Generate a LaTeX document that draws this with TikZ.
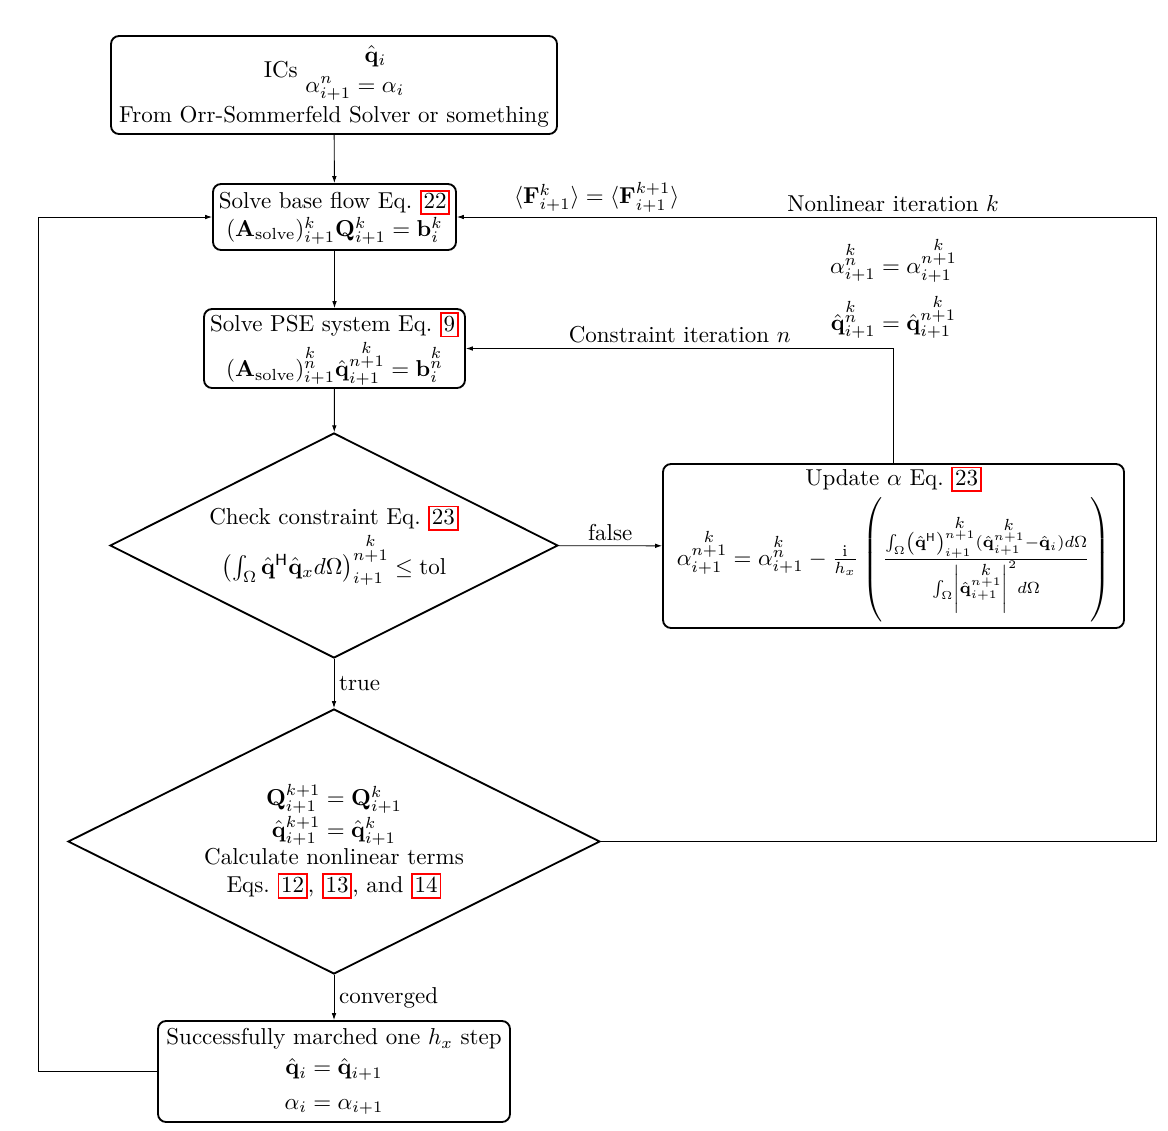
\documentclass[tikz,border=0pt]{standalone}
\usepackage{amsmath}
\usetikzlibrary{shapes.geometric,arrows.meta}
\newcommand{\qh}{\hat{\mathbf{q}}}
\newcommand{\kk}[2]{\overset{\scriptstyle #1}{#2}}
\newcommand{\rlink}[1]{{\setlength{\fboxsep}{0.8pt}\setlength{\fboxrule}{0.8pt}\textcolor{red}{\fbox{\textcolor{black}{\rule[-1.2pt]{0pt}{7.6pt}#1}}}}}
\begin{document}
\begin{tikzpicture}[x=0.4348pt,y=-0.4348pt,
  box/.style={draw,thick,rounded corners=3.5pt,align=center,inner sep=1pt},
  dia/.style={draw,thick,diamond,aspect=2,align=center,inner sep=0pt},
  arr/.style={-{Latex[length=3pt,width=2pt]}},
  lbl/.style={inner sep=2pt}]
\useasboundingbox (0,0) rectangle (1168,1130);
\node[box,minimum width={446*0.4348pt},minimum height={98*0.4348pt}] (ic) at (334,85)
  {ICs $\begin{array}{@{}c@{}}\hspace{18pt}\qh_i\\[1pt] \alpha^{n}_{i+1}=\alpha_i\end{array}$\\[1.5pt] From Orr-Sommerfeld Solver or something};
\node[box,minimum width={243*0.4348pt},minimum height={66*0.4348pt}] (base) at (334.5,217)
  {Solve base flow Eq.~\rlink{22}\\ $(\mathbf{A}_{\mathrm{solve}})^{k}_{i+1}\mathbf{Q}^{k}_{i+1}=\mathbf{b}^{k}_{i}$};
\node[box,minimum width={261*0.4348pt},minimum height={79*0.4348pt}] (pse) at (334.5,348.5)
  {Solve PSE system Eq.~\rlink{9}\\ $(\mathbf{A}_{\mathrm{solve}})^{\kk{k}{n}}_{i+1}\qh^{\kk{k}{n+1}}_{i+1}=\mathbf{b}^{\kk{k}{n}}_{i}$};
\node[dia,minimum width={448*0.4348pt},minimum height={225*0.4348pt}] (check) at (334,545.5)
  {Check constraint Eq.~\rlink{23}\\ $\left(\int_\Omega\qh^{\mathsf{H}}\qh_x d\Omega\right)^{\kk{k}{n+1}}_{i+1}\le\mathrm{tol}$};
\node[box,minimum width={461*0.4348pt},minimum height={164*0.4348pt}] (upd) at (893.5,546)
  {Update $\alpha$ Eq.~\rlink{23}\\ $\alpha^{\kk{k}{n+1}}_{i+1}=\alpha^{\kk{k}{n}}_{i+1}-\frac{\mathrm{i}}{h_x}\left(\rule[-26pt]{0pt}{57pt}\frac{\int_\Omega\left(\qh^{\mathsf{H}}\right)^{\kk{k}{n+1}}_{i+1}(\qh^{\kk{k}{n+1}}_{i+1}-\qh_i)d\Omega}{\int_\Omega\left|\qh^{\kk{k}{n+1}}_{i+1}\right|^2d\Omega}\right)$};
\node[dia,minimum width={532*0.4348pt},minimum height={265*0.4348pt}] (big) at (334,841.5)
  {$\mathbf{Q}^{k+1}_{i+1}=\mathbf{Q}^{k}_{i+1}$\\ $\qh^{k+1}_{i+1}=\qh^{k}_{i+1}$\\ Calculate nonlinear terms\\ Eqs.~\rlink{12}, \rlink{13}, and \rlink{14}};
\node[box,minimum width={352*0.4348pt},minimum height={101*0.4348pt}] (last) at (334,1071.5)
  {Successfully marched one $h_x$ step\\[1pt] $\qh_i=\qh_{i+1}$\\[3pt] $\alpha_i=\alpha_{i+1}$};
\coordinate (nlc) at (1156,217);
\coordinate (lc) at (38,217);
\draw[arr] (ic) -- (base);
\draw[arr] (base) -- (pse);
\draw[arr] (pse) -- (check);
\draw[arr] (check) -- node[lbl,above] (lf) {false} (upd);
\draw[arr] (upd.north) |- node[pos=0.75,lbl,above] (lci) {Constraint iteration $n$}
  node[pos=0.5,anchor=south,inner sep=4pt] (leq) {$\begin{array}{@{}c@{}}\alpha^{\kk{k}{n}}_{i+1}=\alpha^{\kk{k}{n+1}}_{i+1}\\[5pt] \qh^{\kk{k}{n}}_{i+1}=\qh^{\kk{k}{n+1}}_{i+1}\end{array}$} (pse.east);
\draw[arr] (check) -- node[lbl,right] (lt) {true} (big);
\draw[arr] (big.east) -| (nlc) -- node[pos=0.376,lbl,above] (lnl) {Nonlinear iteration $k$}
  node[pos=0.8,lbl,above] (lF) {$\langle\mathbf{F}^{k}_{i+1}\rangle=\langle\mathbf{F}^{k+1}_{i+1}\rangle$} (base.east);
\draw[arr] (big) -- node[lbl,right] (lc2) {converged} (last);
\draw[arr] (last.west) -| (lc) -- (base.west);
\end{tikzpicture}
\end{document}
